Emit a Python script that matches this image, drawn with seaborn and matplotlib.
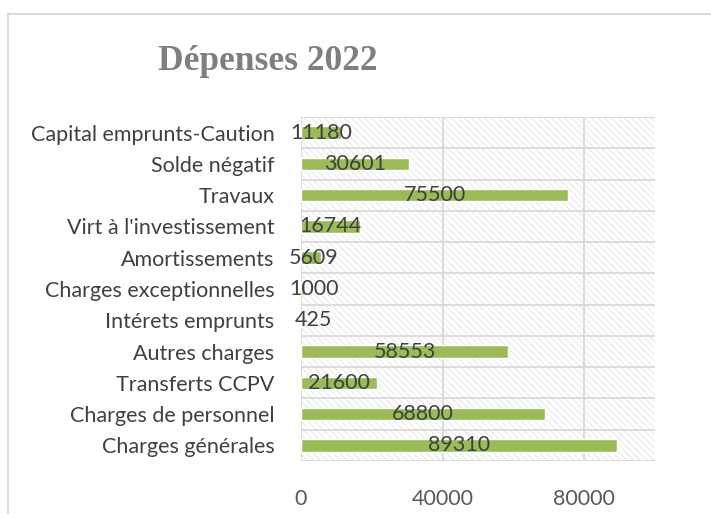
import matplotlib
matplotlib.use("Agg")
import matplotlib.pyplot as plt
import seaborn as sns
import pandas as pd
from matplotlib.patches import Rectangle

# données (de haut en bas)
categories = ["Capital emprunts-Caution", "Solde négatif", "Travaux",
              "Virt à l'investissement", "Amortissements", "Charges exceptionnelles",
              "Intérets emprunts", "Autres charges", "Transferts CCPV",
              "Charges de personnel", "Charges générales"]
montants = [11180, 30601, 75500, 16744, 5609, 1000, 425, 58553, 21600, 68800, 89310]
x_ticks = [0, 40000, 80000]

df = pd.DataFrame({"poste": categories, "montant": montants})

sns.set_style("white")
plt.rcParams['font.family'] = ['Lato', 'DejaVu Sans']
plt.rcParams['hatch.linewidth'] = 0.6

fig = plt.figure(figsize=(7.11, 5.14), dpi=100)
ax = fig.add_axes([301/711, 1-461/514, 354/711, 344/514])

# fond hachuré de la zone de tracé
ax.add_patch(Rectangle((0, 0), 1, 1, transform=ax.transAxes, facecolor="white",
                       edgecolor="#E3E3E3", hatch="\\" * 5, linewidth=0, zorder=0))

sns.barplot(data=df, x="montant", y="poste", orient="h", color="#9BBB59",
            width=0.4, saturation=1, ax=ax, zorder=3)

# étiquettes au centre des barres (décalées pour les très petites valeurs, comme Excel)
for i, v in enumerate(montants):
    ax.text(max(v / 2, 3600), i, f"{v}", ha="center", va="center",
            fontsize=15.5, color="#404040", zorder=4)

ax.set_xlim(0, 100000)
ax.set_ylim(len(categories) - 0.5, -0.5)
ax.set_xticks(x_ticks)
ax.set_yticks(range(len(categories)))
ax.set_yticks([i - 0.5 for i in range(len(categories) + 1)], minor=True)
ax.grid(False)
ax.grid(axis="x", which="major", color="#D9D9D9", linewidth=1.3, zorder=1)
ax.grid(axis="y", which="minor", color="#D9D9D9", linewidth=1.3, zorder=1)
ax.set_axisbelow(True)
ax.tick_params(axis="both", which="both", length=0)
ax.tick_params(axis="y", labelsize=15.5, labelcolor="#404040", pad=19)
ax.tick_params(axis="x", labelsize=15.5, labelcolor="#595959", pad=20)
ax.set_xlabel("")
ax.set_ylabel("")
for s in ax.spines.values():
    s.set_visible(False)

fig.text(268/711, 1-62/514, "Dépenses 2022", ha="center", va="center",
         fontsize=25.5, fontweight="bold", color="#7F7F7F", family="Liberation Serif")

# cadre du graphique
fig.add_artist(Rectangle((8/711, -0.1), 1.0, 1-14/514+0.1, transform=fig.transFigure,
                         fill=False, edgecolor="#D9D9D9", linewidth=1.3))

fig.savefig("out.png", dpi=100)
